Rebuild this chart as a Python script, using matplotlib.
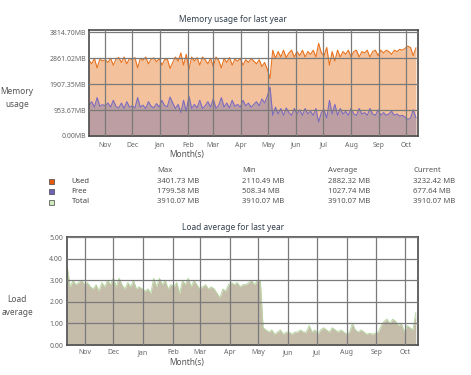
import matplotlib
matplotlib.use("Agg")
import matplotlib.pyplot as plt
import matplotlib.dates as mdates
import pandas as pd
from matplotlib.patches import Rectangle

plt.rcParams['font.family'] = ['Noto Sans', 'DejaVu Sans']

# ---------------- data ----------------
start_date = "2014-10-14"
end_date = "2015-10-14"
step = "3D"

used_mb = [
    2780, 2650, 2850, 2500, 2820, 2760,
    2800, 2700, 2850, 2600, 2830, 2880, 2700, 2900, 2650, 2850,
    2800, 2880, 2500, 2850, 2780, 2900, 2650, 2820, 2870, 2720,
    2850, 2600, 2800, 2830, 2480, 2700, 2900, 2750, 3050, 2600,
    3000, 2450, 2900, 2750, 2880, 2600, 2900, 2800, 2650,
    2850, 2550, 2900, 2780, 2500, 2850, 2700, 2880, 2600, 2820,
    2750, 2850, 2600, 2800, 2700, 2850, 2750, 2650, 2800, 2550, 2700, 2450,
    2110.49,
    3150, 2850, 3100, 2900, 3150, 2880, 3050, 3150, 2900, 3100,
    2950, 3150, 2900, 3100, 3000, 3150, 2900, 3401.73, 3050, 2950,
    3250, 2600, 3100, 2750, 3150, 2900, 3100, 3000, 3150, 2900,
    3100, 3150, 2900, 3100, 3050, 3150, 2900, 3100, 3150, 2950,
    3150, 3050, 3150, 3100, 3000, 3150, 3100, 3180, 3150, 3220,
    3300, 3250, 2950, 3232.42,
]

free_mb = [
    1130, 1260, 1060, 1410, 1090, 1150,
    1110, 1210, 1060, 1310, 1080, 1030, 1210, 1010, 1260, 1060,
    1110, 1030, 1410, 1060, 1130, 1010, 1260, 1090, 1040, 1190,
    1060, 1310, 1110, 1080, 1430, 1210, 1010, 1160, 860, 1310,
    910, 1460, 1010, 1160, 1030, 1310, 1010, 1110, 1260,
    1060, 1360, 1010, 1130, 1410, 1060, 1210, 1030, 1310, 1090,
    1160, 1060, 1310, 1110, 1210, 1060, 1160, 1260, 1110, 1360, 1210, 1460,
    1799.58,
    760, 1060, 810, 1010, 760, 1030, 860, 760, 1010, 810,
    960, 760, 1010, 810, 910, 760, 1010, 508.34, 860, 960,
    660, 1310, 810, 1160, 760, 1010, 810, 910, 760, 1010,
    810, 760, 1010, 810, 860, 760, 1010, 810, 760, 960,
    760, 860, 760, 810, 910, 760, 810, 730, 760, 690,
    610, 660, 960, 677.64,
]

total_mb = 3910.07

load_avg = [
    3.6, 2.7, 3.0, 2.8, 2.9, 3.0,
    2.8, 2.9, 2.7, 2.6, 2.8, 2.5, 2.9, 2.7, 3.0, 2.8,
    3.1, 2.7, 3.1, 2.8, 2.6, 2.9, 2.7, 3.0, 2.6, 2.7,
    2.6, 2.5, 2.6, 2.4, 3.1, 2.7, 3.1, 2.8, 3.0, 2.6,
    2.8, 2.7, 2.9, 2.4, 3.0, 2.8, 3.1, 2.7, 3.0,
    2.8, 2.6, 2.7, 2.8, 2.6, 2.7, 2.6, 2.4, 2.2, 2.6,
    2.5, 2.8, 2.9, 2.8, 2.9, 2.7, 2.8, 2.8, 2.9, 3.0, 2.8, 3.0,
    3.0,
    0.8, 0.7, 0.6, 0.7, 0.5, 0.6, 0.7, 0.5, 0.6, 0.6,
    0.5, 0.6, 0.6, 0.7, 0.6, 0.6, 0.9, 0.6, 0.7, 0.5,
    0.7, 0.8, 0.7, 0.6, 0.8, 0.7, 0.6, 0.7, 0.6, 0.5,
    0.6, 1.0, 0.7, 0.6, 0.7, 0.6, 0.5, 0.55, 0.5, 0.55,
    0.6, 0.9, 1.1, 1.2, 1.0, 1.2, 1.1, 0.9, 1.0, 0.6,
    0.9, 0.8, 0.7, 1.5,
]

mem_ticks = [0.0, 953.67, 1907.35, 2861.02, 3814.70]
mem_tick_labels = ["0.00MB", "953.67MB", "1907.35MB", "2861.02MB", "3814.70MB"]
load_ticks = [0, 1, 2, 3, 4, 5]
load_tick_labels = ["0.00", "1.00", "2.00", "3.00", "4.00", "5.00"]

legend_names = ["Used", "Free", "Total"]
legend_cols = ["Max", "Min", "Average", "Current"]
legend_values = [
    ["3401.73 MB", "2110.49 MB", "2882.32 MB", "3232.42 MB"],
    ["1799.58 MB", "508.34 MB", "1027.74 MB", "677.64 MB"],
    ["3910.07 MB", "3910.07 MB", "3910.07 MB", "3910.07 MB"],
]

# ---------------- styling ----------------
c_used_line = "#e8731e"
c_used_fill = "#f3c19c"
c_free_line = "#7b6cc0"
c_free_fill = "#bd9ea2"
c_load_line = "#b6d8a2"
c_load_fill = "#c5bca9"
legend_sq = ["#e8590c", "#6f62b8", "#cfe9be"]
text_c = "#555555"
title_c = "#34404d"

dates = pd.date_range(start=start_date, periods=len(used_mb), freq=step)
xmin, xmax = pd.Timestamp(start_date), pd.Timestamp(end_date)

W, H = 471, 375
fig = plt.figure(figsize=(W / 100, H / 100), dpi=100)


def fx(px):
    return px / W


def fy(py):
    return 1 - py / H


def style_axes(ax):
    for s in ax.spines.values():
        s.set_color("#4a4a4a")
        s.set_linewidth(1.2)
    ax.grid(True, color="#7a7a7a", linewidth=0.9)
    ax.set_axisbelow(False)
    ax.tick_params(length=0, labelsize=5, colors="#666666")
    ax.xaxis.set_major_locator(mdates.MonthLocator())
    ax.xaxis.set_major_formatter(mdates.DateFormatter("%b"))
    ax.set_xlim(xmin, xmax)


# memory chart
ax1 = fig.add_axes([fx(89), fy(136), fx(417.7 - 89), (136 - 29.5) / H])
ax1.fill_between(dates, 0, used_mb, color=c_used_fill, linewidth=0)
ax1.fill_between(dates, 0, free_mb, color=c_free_fill, linewidth=0)
ax1.plot(dates, used_mb, color=c_used_line, linewidth=0.8)
ax1.plot(dates, free_mb, color=c_free_line, linewidth=0.8)
ax1.set_ylim(0, total_mb)
ax1.set_yticks(mem_ticks)
ax1.set_yticklabels(mem_tick_labels)
style_axes(ax1)
ax1.tick_params(axis="y", pad=2)
ax1.tick_params(axis="x", pad=4)

# load chart
ax2 = fig.add_axes([fx(67.3), fy(345), fx(417.7 - 67.3), (345 - 237.3) / H])
ax2.fill_between(dates, 0, load_avg, color=c_load_fill, linewidth=0)
ax2.plot(dates, load_avg, color=c_load_line, linewidth=0.7)
ax2.set_ylim(0, 5)
ax2.set_yticks(load_ticks)
ax2.set_yticklabels(load_tick_labels)
style_axes(ax2)
ax2.tick_params(axis="y", pad=3)
ax2.tick_params(axis="x", pad=3)

# titles / labels
fig.text(fx(233), fy(19), "Memory usage for last year", ha="center", va="center",
         fontsize=6, fontweight="bold", color=title_c)
fig.text(fx(233), fy(228), "Load average for last year", ha="center", va="center",
         fontsize=6, fontweight="bold", color=title_c)
fig.text(fx(187), fy(155), "Month(s)", ha="center", va="center", fontsize=6, color=text_c)
fig.text(fx(187), fy(363), "Month(s)", ha="center", va="center", fontsize=6, color=text_c)
fig.text(fx(17), fy(98), "Memory\nusage", ha="center", va="center", fontsize=6,
         color=text_c, linespacing=1.6)
fig.text(fx(17), fy(306), "Load\naverage", ha="center", va="center", fontsize=6,
         color=text_c, linespacing=1.6)

# legend table
col_x = [157, 242, 328, 413]
row_y = [181.7, 191.7, 202]
for cx, name in zip(col_x, legend_cols):
    fig.text(fx(cx), fy(170.7), name, ha="left", va="center", fontsize=5.5, color=text_c)
for r, (name, ry) in enumerate(zip(legend_names, row_y)):
    fig.patches.append(Rectangle((fx(48.5), fy(ry + 2.5)), fx(5), 5 / H,
                                 transform=fig.transFigure, facecolor=legend_sq[r],
                                 edgecolor="#444444", linewidth=0.5))
    fig.text(fx(71.7), fy(ry), name, ha="left", va="center", fontsize=5.5, color="#444444")
    for cx, val in zip(col_x, legend_values[r]):
        fig.text(fx(cx), fy(ry), val, ha="left", va="center", fontsize=5.5, color=text_c)

fig.savefig("out.png", dpi=100, facecolor="white")
